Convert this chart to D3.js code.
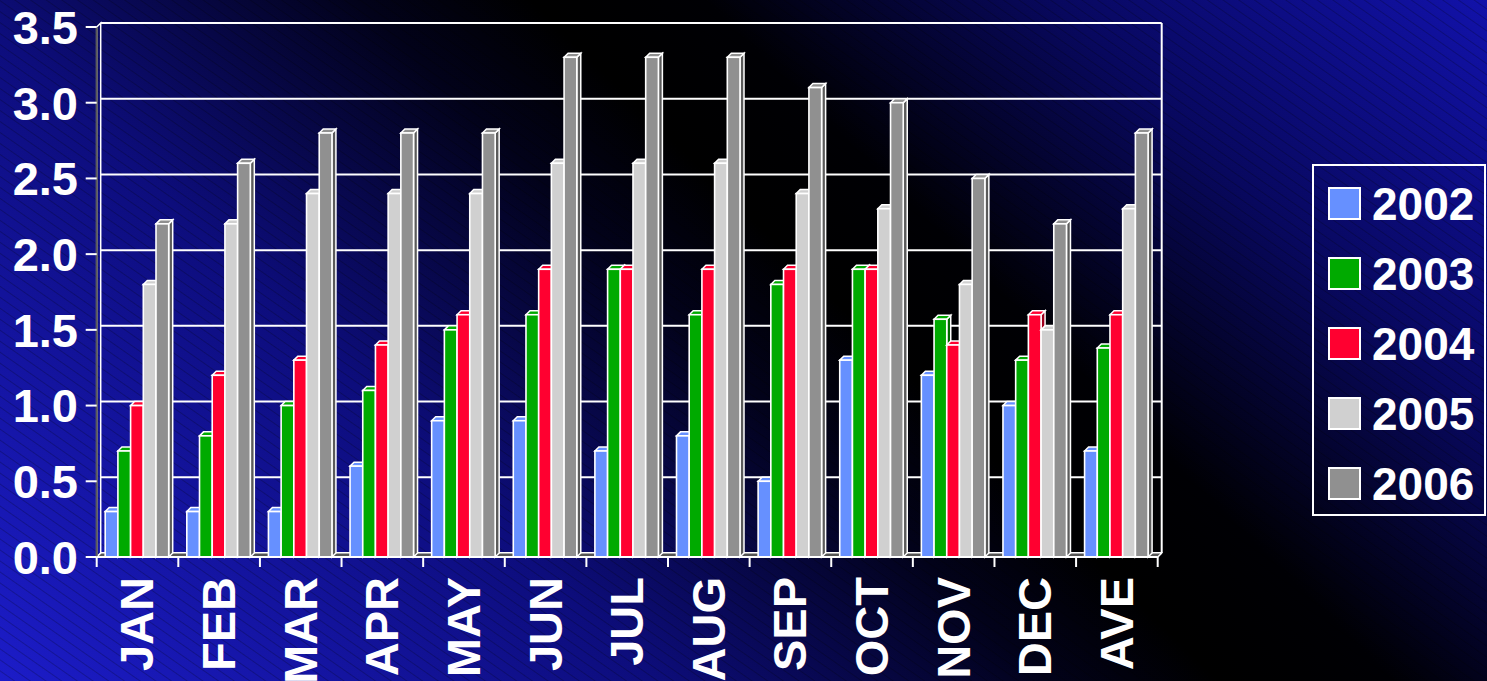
<!DOCTYPE html>
<html>
<head>
<meta charset="utf-8">
<script src="https://cdn.jsdelivr.net/npm/d3@7"></script>
<style>
  html, body { margin: 0; padding: 0; background: #000; }
  svg { display: block; }
  text { font-family: "Liberation Sans", Arial, sans-serif; font-weight: bold; fill: #fff; }
</style>
</head>
<body>
<svg id="chart" width="1487" height="681"></svg>
<script>
// ---- data ----
const categories = ["JAN","FEB","MAR","APR","MAY","JUN","JUL","AUG","SEP","OCT","NOV","DEC","AVE"];
const seriesNames = ["2002","2003","2004","2005","2006"];
const seriesColors = ["#6690ff","#00aa00","#ff0030","#d0d0d0","#909090"];
const v2002 = [0.3,0.3,0.3,0.6,0.9,0.9,0.7,0.8,0.5,1.3,1.2,1.0,0.7];
const v2003 = [0.7,0.8,1.0,1.1,1.5,1.6,1.9,1.6,1.8,1.9,1.57,1.3,1.38];
const v2004 = [1.0,1.2,1.3,1.4,1.6,1.9,1.9,1.9,1.9,1.9,1.4,1.6,1.6];
const v2005 = [1.8,2.2,2.4,2.4,2.4,2.6,2.6,2.6,2.4,2.3,1.8,1.5,2.3];
const v2006 = [2.2,2.6,2.8,2.8,2.8,3.3,3.3,3.3,3.1,3.0,2.5,2.2,2.8];
const yTicks = [0,0.5,1.0,1.5,2.0,2.5,3.0,3.5];
const seriesValues = [v2002,v2003,v2004,v2005,v2006];

// ---- layout ----
const W = 1487, H = 681;
const DX = 4, DY = 4; // 3D depth offset
const svg = d3.select("#chart");
const defs = svg.append("defs");

const grad = defs.append("linearGradient").attr("id","bg")
  .attr("gradientUnits","userSpaceOnUse")
  .attr("x1",283).attr("y1",959).attr("x2",1358).attr("y2",-128);
[[0,"#1c1cc8"],[0.3,"#0d0d7c"],[0.48,"#02021a"],[0.56,"#000000"],[0.64,"#000004"],[0.8,"#08085e"],[1,"#1212aa"]]
  .forEach(([o,c]) => grad.append("stop").attr("offset",o).attr("stop-color",c));

const pat = defs.append("pattern").attr("id","stripes")
  .attr("patternUnits","userSpaceOnUse").attr("width",9).attr("height",9)
  .attr("patternTransform","rotate(35)");
pat.append("line").attr("x1",0).attr("y1",0.5).attr("x2",9).attr("y2",0.5)
  .attr("stroke","rgba(0,0,0,0.22)").attr("stroke-width",1);

svg.append("rect").attr("width",W).attr("height",H).attr("fill","url(#bg)");
svg.append("rect").attr("width",W).attr("height",H).attr("fill","url(#stripes)");

const x = d3.scaleBand().domain(categories).range([96.7, 1157.7]).paddingInner(0).paddingOuter(0);
const xs = d3.scaleBand().domain(seriesNames).range([8.5, 8.5 + 5*12.7]).padding(0);
const y = d3.scaleLinear().domain([0,3.5]).range([557, 27]);

const x0 = x.range()[0], x1 = x.range()[1];

// back wall gridlines
const g = svg.append("g");
g.selectAll("line.grid").data(yTicks).join("line")
  .attr("x1", x0 + DX).attr("x2", x1 + DX)
  .attr("y1", d => y(d) - DY).attr("y2", d => y(d) - DY)
  .attr("stroke","#fff").attr("stroke-width",2);
g.append("line").attr("x1", x1 + DX).attr("x2", x1 + DX)
  .attr("y1", y(3.5) - DY).attr("y2", y(0) - DY)
  .attr("stroke","#fff").attr("stroke-width",2);
g.append("line").attr("x1", x1).attr("y1", y(0)).attr("x2", x1 + DX).attr("y2", y(0) - DY)
  .attr("stroke","#fff").attr("stroke-width",1.5);

// floor
g.append("path")
  .attr("d", `M${x0},${y(0)} L${x0+DX},${y(0)-DY} L${x1+DX},${y(0)-DY} L${x1},${y(0)} Z`)
  .attr("fill","#555").attr("stroke","#fff").attr("stroke-width",1.2);

// left wall
g.append("path")
  .attr("d", `M${x0},${y(0)} L${x0},${y(3.5)} L${x0+DX},${y(3.5)-DY} L${x0+DX},${y(0)-DY} Z`)
  .attr("fill","none").attr("stroke","#fff").attr("stroke-width",1.5);
g.append("line").attr("x1",x0).attr("x2",x0).attr("y1",y(0)).attr("y2",y(3.5))
  .attr("stroke","#5a5a5a").attr("stroke-width",2);

// bars
const bars = svg.append("g");
categories.forEach((cat, ci) => {
  seriesNames.forEach((s, si) => {
    const v = seriesValues[si][ci];
    const c = seriesColors[si];
    const bx = x(cat) + xs(s), bw = xs.bandwidth();
    const yt = y(v), yb = y(0);
    const grp = bars.append("g");
    grp.append("path")
      .attr("d", `M${bx+bw},${yb} L${bx+bw},${yt} L${bx+bw+DX},${yt-DY} L${bx+bw+DX},${yb-DY} Z`)
      .attr("fill", d3.color(c).darker(1.3)).attr("stroke","#fff").attr("stroke-width",1.5);
    grp.append("path")
      .attr("d", `M${bx},${yt} L${bx+DX},${yt-DY} L${bx+bw+DX},${yt-DY} L${bx+bw},${yt} Z`)
      .attr("fill", c).attr("stroke","#fff").attr("stroke-width",1.5);
    grp.append("rect")
      .attr("x", bx).attr("y", yt).attr("width", bw).attr("height", yb - yt)
      .attr("fill", c).attr("stroke","#fff").attr("stroke-width",1.6);
  });
});

// axes (front)
const axisG = svg.append("g");
axisG.append("line").attr("x1",x0).attr("x2",x1).attr("y1",y(0)).attr("y2",y(0))
  .attr("stroke","#fff").attr("stroke-width",2);
const xTickPos = categories.map(c => x(c)).concat([x1]);
axisG.selectAll("line.xt").data(xTickPos).join("line")
  .attr("x1", d => d).attr("x2", d => d).attr("y1", y(0)).attr("y2", y(0) + 10)
  .attr("stroke","#fff").attr("stroke-width",2);
axisG.selectAll("line.yt").data(yTicks).join("line")
  .attr("x1", x0 - 11).attr("x2", x0).attr("y1", d => y(d)).attr("y2", d => y(d))
  .attr("stroke","#fff").attr("stroke-width",2);

// y labels
axisG.selectAll("text.yl").data(yTicks).join("text")
  .attr("x", 78).attr("y", d => y(d)).attr("dy","0.36em")
  .attr("text-anchor","end").attr("font-size",47)
  .text(d => d.toFixed(1));

// x labels (rotated)
axisG.selectAll("text.xl").data(categories).join("text")
  .attr("transform", d => `translate(${x(d) + x.bandwidth()/2 - 1},${y(0) + 20}) rotate(-90)`)
  .attr("dy","0.36em").attr("text-anchor","end").attr("font-size",47)
  .text(d => d);

// legend
const lg = svg.append("g");
lg.append("rect").attr("x",1313).attr("y",165).attr("width",172).attr("height",350)
  .attr("fill","none").attr("stroke","#fff").attr("stroke-width",2);
seriesNames.forEach((s, i) => {
  const cy = 203.5 + i*70;
  lg.append("rect").attr("x",1329).attr("y",cy - 15.5).attr("width",31).attr("height",31)
    .attr("fill",seriesColors[i]).attr("stroke","#fff").attr("stroke-width",2);
  lg.append("text").attr("x",1372).attr("y",cy).attr("dy","0.36em")
    .attr("font-size",46).text(s);
});
</script>
</body>
</html>
